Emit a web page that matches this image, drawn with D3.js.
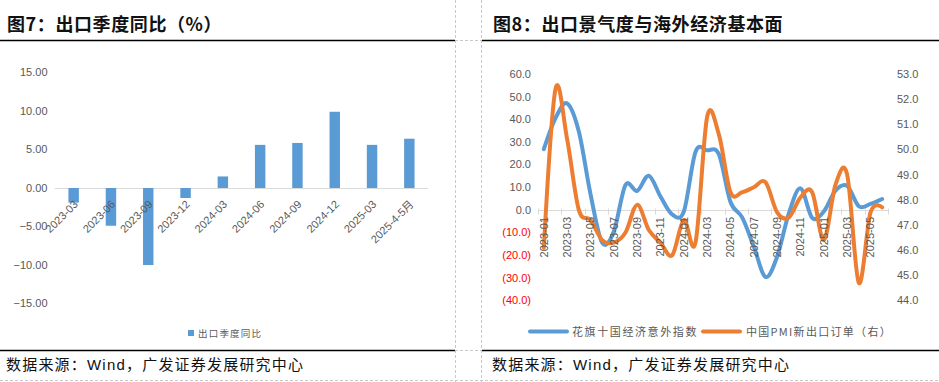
<!DOCTYPE html>
<html>
<head>
<meta charset="utf-8">
<script src="https://cdn.jsdelivr.net/npm/d3@7"></script>
<style>
  html, body { margin: 0; padding: 0; background: #fff; }
  svg { display: block; }
</style>
</head>
<body>
<svg id="chart" width="939" height="382"></svg>
<script>
// ---------- Data: Figure 7 ----------
const quarterCategories = ["2023-03","2023-06","2023-09","2023-12","2024-03","2024-06","2024-09","2024-12","2025-03","2025-4-5月"];
const exportYoY = [-1.9, -4.9, -10.0, -1.3, 1.5, 5.6, 5.85, 9.9, 5.6, 6.4];
const leftTicks = [15, 10, 5, 0, -5, -10, -15];

// ---------- Data: Figure 8 ----------
const months = ["2023-01","2023-02","2023-03","2023-04","2023-05","2023-06","2023-07","2023-08","2023-09","2023-10","2023-11","2023-12",
                "2024-01","2024-02","2024-03","2024-04","2024-05","2024-06","2024-07","2024-08","2024-09","2024-10","2024-11","2024-12",
                "2025-01","2025-02","2025-03","2025-04","2025-05","2025-06"];
const citiSurprise = [26.8, 40.5, 47.0, 34.6, 7.0, -14.5, -9.5, 11.0, 8.4, 15.1, 5.9, -2.0,
                      -0.7, 25.6, 26.3, 24.6, 3.5, -3.3, -16.2, -29.6, -20.6, -1.5, 9.5, -3.5,
                      -0.7, 8.5, 10.6, 1.6, 2.7, 4.8];
const pmiNewExport = [46.1, 52.4, 50.4, 47.6, 47.2, 46.4, 46.3, 46.7, 47.8, 46.8, 46.3, 45.8,
                      47.2, 46.3, 51.3, 50.6, 48.3, 48.3, 48.5, 48.7, 47.5, 47.3, 48.1, 48.3,
                      46.4, 48.6, 49.0, 44.7, 47.5, 47.7];
const leftAxisTicks8 = [60, 50, 40, 30, 20, 10, 0, -10, -20, -30, -40];
const rightAxisTicks8 = [53, 52, 51, 50, 49, 48, 47, 46, 45, 44];

const svg = d3.select("#chart");
const BLUE = "#5B9BD5", ORANGE = "#ED7D31", GRAY = "#595959";
const CJK = "'Noto Sans CJK SC', sans-serif";
const LAT = "'Liberation Sans', Arial, 'Noto Sans CJK SC', sans-serif";

svg.append("rect").attr("width", 939).attr("height", 382).attr("fill", "#fff");

// ---------- frame lines ----------
const dash = svg.append("g").attr("stroke", "#c8c8c8").attr("stroke-width", 1).attr("stroke-dasharray", "3,2").attr("fill", "none");
dash.append("line").attr("x1", 455.5).attr("x2", 455.5).attr("y1", 0).attr("y2", 382);
dash.append("line").attr("x1", 481.5).attr("x2", 481.5).attr("y1", 0).attr("y2", 382);
dash.append("line").attr("x1", 455).attr("x2", 482).attr("y1", 40.5).attr("y2", 40.5);
dash.append("line").attr("x1", 455).attr("x2", 482).attr("y1", 350.5).attr("y2", 350.5);
dash.append("line").attr("x1", 0).attr("x2", 939).attr("y1", 380.5).attr("y2", 380.5);

const solid = svg.append("g").attr("stroke", "#000").attr("stroke-width", 1.5);
solid.append("line").attr("x1", 0).attr("x2", 455).attr("y1", 40.5).attr("y2", 40.5);
solid.append("line").attr("x1", 482).attr("x2", 939).attr("y1", 40.5).attr("y2", 40.5);
solid.append("line").attr("x1", 0).attr("x2", 455).attr("y1", 350.5).attr("y2", 350.5);
solid.append("line").attr("x1", 482).attr("x2", 939).attr("y1", 350.5).attr("y2", 350.5);

// titles
svg.append("text").attr("x", 7).attr("y", 31).text("图7：出口季度同比（%）")
  .attr("font-family", CJK).attr("font-weight", 700).attr("font-size", 18).attr("fill", "#111").attr("letter-spacing", 0.6);
svg.append("text").attr("x", 493).attr("y", 31).text("图8：出口景气度与海外经济基本面")
  .attr("font-family", CJK).attr("font-weight", 700).attr("font-size", 18).attr("fill", "#111").attr("letter-spacing", 0.6);

// sources
svg.append("text").attr("x", 6).attr("y", 370).text("数据来源：Wind，广发证券发展研究中心")
  .attr("font-family", LAT).attr("font-size", 15).attr("fill", "#111").attr("letter-spacing", 1.2);
svg.append("text").attr("x", 492).attr("y", 370).text("数据来源：Wind，广发证券发展研究中心")
  .attr("font-family", LAT).attr("font-size", 15).attr("fill", "#111").attr("letter-spacing", 1.2);

// ---------- Figure 7: bar chart ----------
{
  const x = d3.scaleBand().domain(quarterCategories).range([55, 428]).paddingInner(0.72).paddingOuter(0.36);
  const y = d3.scaleLinear().domain([-15, 15]).range([303.5, 72.5]);
  const g = svg.append("g");

  g.selectAll("text.yt").data(leftTicks).join("text")
    .attr("x", 47.5).attr("y", d => y(d)).attr("dy", "0.35em")
    .attr("text-anchor", "end").attr("font-family", LAT).attr("font-size", 11).attr("fill", GRAY)
    .text(d => d3.format(".2f")(d));

  g.append("line").attr("x1", 55).attr("x2", 428).attr("y1", Math.round(y(0)) + 0.5).attr("y2", Math.round(y(0)) + 0.5)
    .attr("stroke", "#d9d9d9").attr("stroke-width", 1);

  g.selectAll("rect.bar").data(quarterCategories).join("rect")
    .attr("x", d => x(d)).attr("width", x.bandwidth())
    .attr("y", (d, i) => y(Math.max(0, exportYoY[i])))
    .attr("height", (d, i) => Math.abs(y(exportYoY[i]) - y(0)))
    .attr("fill", BLUE);

  g.selectAll("text.xl").data(quarterCategories).join("text")
    .attr("transform", d => `translate(${x(d) + x.bandwidth() / 2 + 5},${205}) rotate(-45)`)
    .attr("text-anchor", "end").attr("font-family", LAT).attr("font-size", 11).attr("fill", GRAY)
    .text(d => d);

  g.append("rect").attr("x", 188).attr("y", 330).attr("width", 6).attr("height", 6).attr("fill", BLUE);
  g.append("text").attr("x", 198).attr("y", 336.5).text("出口季度同比")
    .attr("font-family", CJK).attr("font-size", 9.5).attr("fill", GRAY).attr("letter-spacing", 1.2);
}

// ---------- Figure 8: dual-axis lines ----------
{
  const x = d3.scaleBand().domain(months).range([538, 888]);
  const cx = d => x(d) + x.bandwidth() / 2;
  const yL = d3.scaleLinear().domain([-40, 60]).range([300.5, 74]);
  const yR = d3.scaleLinear().domain([44, 53]).range([300.5, 74]);
  const g = svg.append("g");

  g.selectAll("text.yl").data(leftAxisTicks8).join("text")
    .attr("x", 531).attr("y", d => yL(d)).attr("dy", "0.35em")
    .attr("text-anchor", "end").attr("font-family", LAT).attr("font-size", 11)
    .attr("fill", d => d < 0 ? "#FF0000" : GRAY)
    .text(d => d < 0 ? `(${d3.format(".1f")(-d)})` : d3.format(".1f")(d));

  g.selectAll("text.yr").data(rightAxisTicks8).join("text")
    .attr("x", 897).attr("y", d => yR(d)).attr("dy", "0.35em")
    .attr("text-anchor", "start").attr("font-family", LAT).attr("font-size", 11).attr("fill", GRAY)
    .text(d => d3.format(".1f")(d));

  const y0 = Math.round(yL(0)) + 0.5;
  g.append("line").attr("x1", 538).attr("x2", 888).attr("y1", y0).attr("y2", y0).attr("stroke", "#d9d9d9");
  const tickPos = months.filter((m, i) => i % 2 === 0).map(m => x(m)).concat([888]);
  g.selectAll("line.tk").data(tickPos).join("line")
    .attr("x1", d => Math.round(d) + 0.5).attr("x2", d => Math.round(d) + 0.5)
    .attr("y1", y0 - 2).attr("y2", y0 + 4).attr("stroke", "#d9d9d9");

  const curve = d3.curveCatmullRom.alpha(0);
  const lineL = d3.line().x((d, i) => cx(months[i])).y(d => yL(d)).curve(curve);
  const lineR = d3.line().x((d, i) => cx(months[i])).y(d => yR(d)).curve(curve);

  g.append("path").attr("d", lineL(citiSurprise)).attr("fill", "none").attr("stroke", BLUE)
    .attr("stroke-width", 4).attr("stroke-linejoin", "round").attr("stroke-linecap", "round");
  g.append("path").attr("d", lineR(pmiNewExport)).attr("fill", "none").attr("stroke", ORANGE)
    .attr("stroke-width", 4).attr("stroke-linejoin", "round").attr("stroke-linecap", "round");

  // x labels drawn above the lines
  g.selectAll("text.xl").data(months.filter((m, i) => i % 2 === 0)).join("text")
    .attr("transform", d => `translate(${cx(d)},${217}) rotate(-90)`)
    .attr("dy", "0.35em")
    .attr("text-anchor", "end").attr("font-family", LAT).attr("font-size", 11).attr("fill", GRAY)
    .text(d => d);

  g.append("line").attr("x1", 530).attr("x2", 567).attr("y1", 331.5).attr("y2", 331.5)
    .attr("stroke", BLUE).attr("stroke-width", 4).attr("stroke-linecap", "round");
  g.append("text").attr("x", 572).attr("y", 335.5).text("花旗十国经济意外指数")
    .attr("font-family", CJK).attr("font-size", 11).attr("fill", GRAY).attr("letter-spacing", 1.6);
  g.append("line").attr("x1", 703).attr("x2", 740).attr("y1", 331.5).attr("y2", 331.5)
    .attr("stroke", ORANGE).attr("stroke-width", 4).attr("stroke-linecap", "round");
  g.append("text").attr("x", 746).attr("y", 335.5).text("中国PMI新出口订单（右）")
    .attr("font-family", CJK).attr("font-size", 11).attr("fill", GRAY).attr("letter-spacing", 1.3);
}
</script>
</body>
</html>
